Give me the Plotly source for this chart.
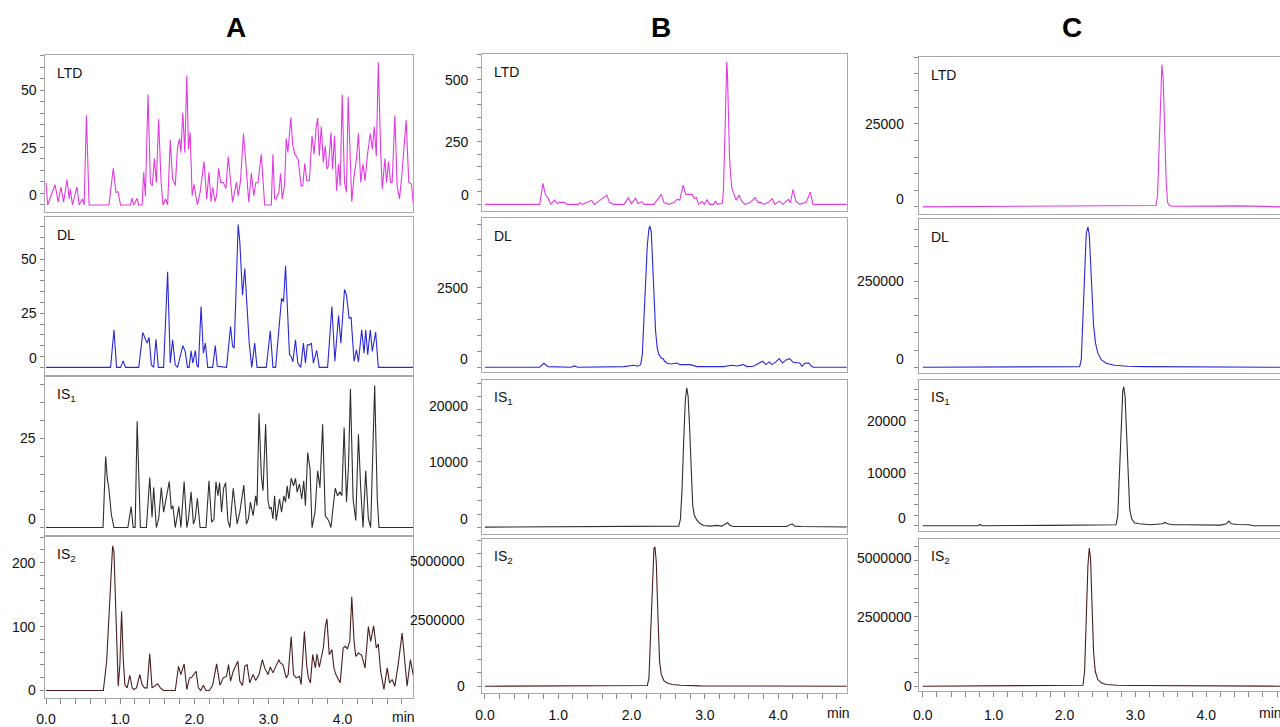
import plotly.graph_objects as go

W, H = 1280, 727

COLUMN_TITLES = ["A", "B", "C"]
COMPOUNDS = ["LTD", "DL", "IS<sub>1</sub>", "IS<sub>2</sub>"]
COLORS = ["#e23ae2", "#2828d8", "#2e2e2e", "#4a1e1e"]
X_TICK_LABELS = ["0.0", "1.0", "2.0", "3.0", "4.0"]

# ---- data: (retention time [min], intensity) ----
A_LTD = [(0.000, 9.8), (0.022, 0), (0.121, 8.8), (0.165, 1.2), (0.201, 7.7), (0.237, 1.2), (0.282, 11), (0.313, 2.6),
         (0.326, 6.9), (0.357, 0), (0.416, 7.9), (0.447, 0), (0.492, 2.6), (0.514, 0), (0.545, 39), (0.581, 0),
         (0.849, 0), (0.907, 15.9), (0.943, 5.5), (0.970, 5.8), (1.005, 0), (1.139, 0), (1.157, 2.9), (1.184, 0),
         (1.229, 2.9), (1.251, 0), (1.296, 0), (1.318, 14.2), (1.340, 3.8), (1.376, 48.1), (1.408, 9.8), (1.434, 8.4),
         (1.461, 20.2), (1.488, 9.8), (1.519, 37.3), (1.550, 11.3), (1.577, 0), (1.613, 2.6), (1.640, 0), (1.676, 28.2),
         (1.707, 11.3), (1.743, 8.4), (1.774, 25), (1.801, 28.9), (1.819, 22.8), (1.845, 40.1), (1.872, 22.8),
         (1.899, 56.3), (1.921, 24.3), (1.944, 31.5), (1.971, 4), (1.997, 9), (2.020, 4), (2.042, 0), (2.078, 5.5),
         (2.131, 18.9), (2.167, 2.6), (2.198, 14.2), (2.225, 1.4), (2.248, 7.7), (2.279, 1.4), (2.301, 4), (2.328, 15.9),
         (2.355, 9.8), (2.391, 9.8), (2.426, 7.2), (2.458, 21.1), (2.489, 9.8), (2.516, 1.2), (2.569, 9.8), (2.592, 4),
         (2.623, 10.3), (2.663, 31.1), (2.694, 18.5), (2.735, 1.2), (2.770, 13.9), (2.802, 4), (2.828, 9.5),
         (2.860, 9.8), (2.904, 22.1), (2.949, 0), (3.038, 0), (3.061, 22.1), (3.083, 2.6), (3.105, 2.6), (3.141, 5.5),
         (3.164, 13.7), (3.186, 2.6), (3.217, 8.4), (3.240, 28.9), (3.262, 22.8), (3.302, 38), (3.329, 25.7),
         (3.356, 22.1), (3.400, 19.9), (3.441, 8.4), (3.463, 8.4), (3.490, 18.1), (3.517, 10.5), (3.552, 10.5),
         (3.588, 30), (3.615, 22.1), (3.642, 33.2), (3.664, 37.8), (3.686, 21.4), (3.713, 34.1), (3.740, 18.5),
         (3.767, 25.7), (3.789, 15.6), (3.811, 17), (3.843, 31.5), (3.865, 15.6), (3.892, 30), (3.919, 6.2),
         (3.946, 17.8), (3.968, 8.4), (3.995, 48.1), (4.026, 9.8), (4.053, 5.5), (4.075, 47.1), (4.102, 18.5),
         (4.124, 1.4), (4.155, 12.7), (4.187, 19.9), (4.214, 31.2), (4.245, 9.8), (4.276, 17.9), (4.303, 10.5),
         (4.334, 21.4), (4.374, 31.1), (4.401, 24.3), (4.428, 34.1), (4.455, 21.1), (4.482, 62.1), (4.513, 24.3),
         (4.535, 6.9), (4.571, 20.2), (4.593, 9.8), (4.620, 18.9), (4.647, 9.8), (4.669, 9.8), (4.705, 39),
         (4.736, 8.4), (4.768, 2.6), (4.803, 14.2), (4.857, 37), (4.893, 9.8), (4.929, 9.1), (4.955, 0)]

A_DL = [(0, 0), (0.871, 0), (0.916, 17.3), (0.952, 0), (1.005, 0), (1.041, 3), (1.072, 0), (1.251, 0), (1.305, 16.1),
        (1.332, 13.5), (1.363, 11.2), (1.390, 13.8), (1.421, 1.2), (1.452, 0), (1.483, 13), (1.515, 0), (1.586, 0),
        (1.640, 44.2), (1.676, 2), (1.707, 12.7), (1.743, 1.2), (1.774, 0), (1.845, 10), (1.877, 7.4), (1.908, 0),
        (1.930, 0), (1.957, 7.7), (1.979, 2), (1.997, 5.8), (2.015, 7.7), (2.033, 1.2), (2.055, 0), (2.091, 28.1),
        (2.122, 6.6), (2.149, 11.2), (2.181, 0), (2.248, 0), (2.283, 10.1), (2.310, 0.5), (2.435, 0), (2.489, 18.9),
        (2.516, 9.7), (2.538, 8.9), (2.592, 66), (2.614, 58), (2.650, 33.4), (2.681, 45.7), (2.712, 27.3), (2.739, 12),
        (2.775, 0), (2.815, 11.2), (2.846, 0), (2.971, 0), (3.025, 16.9), (3.061, 0), (3.097, 0), (3.150, 24.2),
        (3.177, 31.9), (3.204, 30.4), (3.231, 46.9), (3.262, 22.7), (3.284, 5.8), (3.307, 5.1), (3.329, 2.5),
        (3.365, 12.7), (3.396, 2), (3.436, 0), (3.472, 11.2), (3.499, 2), (3.525, 10.4), (3.552, 10.4), (3.579, 11.2),
        (3.606, 2), (3.651, 7.8), (3.686, 0), (3.798, 0), (3.856, 28.1), (3.896, 2.8), (3.946, 23.9), (3.977, 11.2),
        (4.026, 36), (4.053, 33.4), (4.088, 22.7), (4.115, 23), (4.155, 2.8), (4.187, 8.1), (4.214, 2.5), (4.258, 17.3),
        (4.290, 6.6), (4.312, 17.3), (4.339, 5.8), (4.374, 17.3), (4.401, 7.4), (4.446, 16.3), (4.482, 0), (4.960, 0)]

A_IS1 = [(0, 0), (0.769, 0), (0.804, 19.9), (0.827, 13.6), (0.849, 10.8), (0.880, 3.8), (0.916, 0), (1.104, 0),
         (1.148, 5.9), (1.175, 0), (1.202, 0), (1.229, 29.8), (1.273, 0), (1.354, 0), (1.399, 14), (1.430, 2.9),
         (1.452, 11.2), (1.488, 0), (1.519, 2.4), (1.555, 11.2), (1.586, 4.3), (1.613, 7.5), (1.662, 12.9),
         (1.689, 5.2), (1.711, 6.1), (1.743, 0), (1.765, 2.4), (1.792, 5.9), (1.819, 0), (1.863, 12.9), (1.899, 0),
         (1.921, 2.4), (1.957, 10), (1.988, 1), (2.011, 2.4), (2.042, 8.2), (2.078, 0), (2.158, 0), (2.198, 13.1),
         (2.234, 1.5), (2.265, 2.4), (2.292, 12.8), (2.319, 8.9), (2.341, 12.6), (2.368, 4.3), (2.395, 11),
         (2.422, 12.6), (2.453, 2), (2.480, 0), (2.525, 11), (2.551, 6.1), (2.578, 1), (2.614, 4.3), (2.668, 11.9),
         (2.703, 1), (2.730, 2.4), (2.757, 7.1), (2.793, 3.3), (2.828, 8.9), (2.846, 6.1), (2.873, 32), (2.904, 14.5),
         (2.927, 10.3), (2.962, 28.9), (2.994, 7.5), (3.016, 5.2), (3.038, 5.7), (3.061, 2.4), (3.083, 8.9),
         (3.105, 2), (3.150, 8), (3.177, 4.3), (3.208, 8.9), (3.231, 7.1), (3.253, 11.7), (3.275, 8), (3.307, 13.8),
         (3.338, 11.7), (3.365, 13.8), (3.387, 9.9), (3.418, 12.2), (3.450, 8), (3.476, 13.1), (3.499, 6.1),
         (3.530, 21), (3.561, 16.4), (3.588, 0), (3.628, 4.3), (3.664, 15.9), (3.695, 11.2), (3.731, 28.9),
         (3.767, 3.3), (3.811, 2), (3.843, 0), (3.865, 4.3), (3.901, 11), (3.932, 8.9), (3.963, 10), (3.990, 8.9),
         (4.021, 28), (4.053, 7.2), (4.080, 17.3), (4.106, 38.8), (4.142, 8), (4.178, 2), (4.214, 26.1),
         (4.245, 10.8), (4.276, 0), (4.312, 15.9), (4.348, 2.4), (4.379, 0), (4.433, 39.8), (4.468, 8), (4.491, 0),
         (4.960, 0)]

A_IS2 = [(0, 0), (0.773, 0), (0.818, 45.6), (0.849, 118), (0.880, 201), (0.898, 226), (0.916, 217), (0.938, 144),
         (0.974, 6.7), (0.996, 40.4), (1.019, 124), (1.041, 50.8), (1.063, 9.3), (1.095, 4.1), (1.130, 23.8),
         (1.162, 4.1), (1.184, 1.6), (1.220, 4.1), (1.265, 24.9), (1.296, 9.3), (1.327, 4.1), (1.363, 4.1),
         (1.399, 57.5), (1.430, 4.1), (1.466, 6.7), (1.506, 10.4), (1.542, 4.1), (1.586, 0), (1.743, 0), (1.787, 37.8),
         (1.819, 24.9), (1.863, 41.5), (1.899, 1.6), (1.935, 19.7), (1.966, 20.7), (2.024, 30.1), (2.055, 4.1),
         (2.087, 0), (2.122, 8.3), (2.158, 0), (2.203, 0), (2.248, 8.3), (2.301, 41.5), (2.346, 8.3), (2.391, 19.7),
         (2.435, 22.3), (2.462, 40.4), (2.489, 14.5), (2.525, 30.1), (2.560, 40.4), (2.587, 45.6), (2.614, 14.5),
         (2.650, 7.8), (2.681, 37.8), (2.712, 40.4), (2.748, 11.9), (2.793, 24.9), (2.828, 15.6), (2.873, 24.9),
         (2.918, 48.2), (2.949, 35.3), (2.994, 24.9), (3.025, 36.8), (3.061, 27.5), (3.097, 37.8), (3.141, 48.2),
         (3.159, 43), (3.195, 40.4), (3.240, 19.7), (3.266, 24.9), (3.307, 84.5), (3.338, 24.9), (3.374, 19.7),
         (3.418, 22.3), (3.441, 9.3), (3.485, 92.3), (3.517, 37.8), (3.539, 19.7), (3.566, 11.9), (3.597, 56),
         (3.633, 35.3), (3.655, 57), (3.686, 36.3), (3.709, 50.8), (3.740, 66.4), (3.767, 100), (3.789, 112),
         (3.820, 56), (3.856, 63.8), (3.883, 35.3), (3.910, 24.9), (3.968, 11.9), (4.008, 66.4), (4.035, 69),
         (4.066, 65.3), (4.097, 76.7), (4.124, 146.7), (4.155, 76.7), (4.178, 53.4), (4.214, 58.6), (4.258, 55),
         (4.303, 35.3), (4.348, 100), (4.379, 76.7), (4.419, 101), (4.455, 66.4), (4.482, 72.6), (4.513, 30.1),
         (4.558, 1.6), (4.602, 35.3), (4.634, 11.9), (4.669, 17.1), (4.705, 6.7), (4.750, 40.4), (4.803, 89.7),
         (4.835, 50.8), (4.870, 6.7), (4.915, 48.2), (4.960, 19.7)]

B_LTD = [(0, 0), (0.746, 0), (0.768, 40), (0.791, 84), (0.823, 40), (0.859, 27), (0.895, 0), (0.949, 17), (0.985, 3),
         (1.017, 9), (1.049, 7), (1.076, 9), (1.121, 0), (1.275, 0), (1.297, 7), (1.333, 0), (1.455, 16), (1.492, 0),
         (1.663, 37), (1.699, 7), (1.754, 0), (1.898, 0), (1.957, 27), (1.998, 3), (2.056, 25), (2.088, 3),
         (2.133, 11), (2.169, 0), (2.305, 0), (2.405, 40), (2.441, 7), (2.508, 0), (2.576, 7), (2.621, 20),
         (2.658, 17), (2.703, 77), (2.739, 40), (2.780, 40), (2.825, 40), (2.857, 23), (2.884, 27), (2.915, 0),
         (2.960, 12), (2.992, 0), (3.028, 19), (3.064, 0), (3.119, 0), (3.146, 12), (3.173, 0), (3.232, 4),
         (3.241, 7), (3.254, 60), (3.268, 206), (3.281, 392), (3.290, 512), (3.299, 572), (3.308, 525), (3.322, 339),
         (3.336, 193), (3.349, 126), (3.367, 66), (3.390, 47), (3.426, 17), (3.467, 37), (3.503, 13), (3.548, 0),
         (3.616, 7), (3.684, 27), (3.729, 7), (3.760, 9), (3.797, 0), (3.864, 7), (3.919, 23), (3.955, 0),
         (4.014, 13), (4.068, 0), (4.136, 20), (4.167, 7), (4.203, 60), (4.240, 13), (4.294, 0), (4.384, 9),
         (4.438, 49), (4.475, 0), (4.936, 0)]

B_DL = [(0, 0), (0.746, 0), (0.805, 125), (0.859, 21), (1.175, 0), (1.220, 42), (1.266, 0), (1.898, 21), (2.034, 63),
        (2.079, 31), (2.124, 83), (2.147, 396), (2.169, 1542), (2.192, 2896), (2.215, 3833), (2.237, 4354),
        (2.251, 4438), (2.269, 4250), (2.287, 3417), (2.305, 2167), (2.328, 1125), (2.350, 604), (2.373, 396),
        (2.405, 292), (2.432, 271), (2.450, 188), (2.486, 125), (2.531, 104), (2.621, 135), (2.658, 83), (2.712, 83),
        (2.757, 63), (2.802, 83), (2.893, 21), (3.028, 21), (3.164, 31), (3.254, 21), (3.367, 63), (3.435, 42),
        (3.525, 83), (3.571, 21), (3.661, 31), (3.729, 104), (3.788, 188), (3.833, 83), (3.878, 167), (3.914, 83),
        (3.968, 167), (4.014, 271), (4.059, 135), (4.113, 240), (4.158, 271), (4.203, 156), (4.249, 135),
        (4.294, 135), (4.325, 31), (4.362, 125), (4.420, 135), (4.452, 31), (4.484, 0), (4.949, 0)]

B_IS1 = [(0, 0), (0.85, 30), (1.6, 40), (2.3, 80), (2.644, 152), (2.667, 1268), (2.689, 5834), (2.712, 13445),
         (2.734, 19533), (2.753, 21309), (2.771, 20041), (2.789, 15982), (2.811, 8371), (2.834, 3298), (2.857, 1776),
         (2.893, 1015), (2.938, 507), (2.983, 254), (3.073, 152), (3.164, 254), (3.232, 152), (3.277, 406),
         (3.308, 660), (3.345, 254), (3.390, 101), (4.113, 101), (4.158, 355), (4.190, 507), (4.226, 152),
         (4.316, 101), (4.972, 0)]

B_IS2 = [(0, 0), (2.215, 25000), (2.237, 312000), (2.260, 2060000), (2.282, 4190000), (2.305, 5180000),
         (2.319, 5250000), (2.337, 4690000), (2.359, 2690000), (2.382, 937000), (2.405, 437000), (2.441, 212000),
         (2.486, 125000), (2.554, 62000), (2.667, 37000), (2.938, 12000), (4.95, 0)]

C_LTD = [(0, 0), (0.8, 100), (1.4, 150), (2.0, 150), (2.6, 250), (3.0, 300), (3.289, 400), (3.312, 3390),
         (3.336, 20360), (3.354, 35330), (3.373, 42810), (3.392, 38320), (3.411, 24350), (3.434, 7390), (3.453, 1400),
         (3.481, 400), (3.523, 200), (4.2, 250), (4.5, 300), (5.05, 0)]

C_DL = [(0, 0), (2.213, 1900), (2.236, 22100), (2.260, 142000), (2.283, 306000), (2.306, 387000), (2.330, 407000),
        (2.349, 383000), (2.367, 306000), (2.386, 200000), (2.409, 123000), (2.437, 70000), (2.470, 41000),
        (2.517, 22000), (2.587, 11500), (2.704, 5800), (2.891, 2900), (3.125, 1900), (4.0, 1000), (5.05, 0)]

C_IS1 = [(0, 0), (0.78, 0), (0.809, 240), (0.84, 0), (1.8, 60), (2.6, 60), (2.727, 177), (2.751, 1950),
         (2.774, 10170), (2.798, 20920), (2.821, 25670), (2.835, 26490), (2.854, 24720), (2.873, 18390),
         (2.896, 8910), (2.919, 3210), (2.947, 1320), (2.985, 560), (3.055, 370), (3.125, 300), (3.219, 177),
         (3.382, 367), (3.415, 620), (3.453, 367), (3.523, 177), (3.687, 177), (3.920, 114), (4.201, 114),
         (4.285, 367), (4.318, 873), (4.351, 367), (4.435, 240), (4.599, 177), (4.669, 0), (5.05, 0)]

C_IS2 = [(0, 0), (2.260, 36000), (2.283, 536000), (2.306, 2560000), (2.330, 4345000), (2.349, 4964000),
         (2.367, 4583000), (2.386, 3036000), (2.409, 1250000), (2.433, 536000), (2.470, 238000), (2.517, 119000),
         (2.587, 60000), (2.751, 36000), (2.985, 24000), (5.05, 0)]

DATA = {
    ("A", 0): A_LTD, ("A", 1): A_DL, ("A", 2): A_IS1, ("A", 3): A_IS2,
    ("B", 0): B_LTD, ("B", 1): B_DL, ("B", 2): B_IS1, ("B", 3): B_IS2,
    ("C", 0): C_LTD, ("C", 1): C_DL, ("C", 2): C_IS1, ("C", 3): C_IS2,
}

# y tick labels per panel: (value, text)
Y_LABELS = {
    ("A", 0): [(0, "0"), (25, "25"), (50, "50")],
    ("A", 1): [(0, "0"), (25, "25"), (50, "50")],
    ("A", 2): [(0, "0"), (25, "25")],
    ("A", 3): [(0, "0"), (100, "100"), (200, "200")],
    ("B", 0): [(0, "0"), (250, "250"), (500, "500")],
    ("B", 1): [(0, "0"), (2500, "2500")],
    ("B", 2): [(0, "0"), (10000, "10000"), (20000, "20000")],
    ("B", 3): [(0, "0"), (2500000, "2500000"), (5000000, "5000000")],
    ("C", 0): [(0, "0"), (25000, "25000")],
    ("C", 1): [(0, "0"), (250000, "250000")],
    ("C", 2): [(0, "0"), (10000, "10000"), (20000, "20000")],
    ("C", 3): [(0, "0"), (2500000, "2500000"), (5000000, "5000000")],
}

# ---- layout / style (pixel geometry) ----
COL_PX = {"A": (37, 408), "B": (477, 844), "C": (917, 1280)}
COL_XRANGE = {"A": (-0.017, 4.956), "B": (-0.04, 4.935), "C": (-0.05, 5.04)}
COL_STANDOFF = {"A": 3, "B": 4, "C": 6}
ROW_PX = {
    "A": [(55, 213), (218, 377), (379, 538), (540, 702)],
    "B": [(54, 212), (219, 374), (382, 537), (542, 697)],
    "C": [(57, 215), (220, 375), (382, 534), (542, 695)],
}
Y_RANGE = {
    ("A", 0): (-3.0, 65.4), ("A", 1): (-3.5, 69.6), ("A", 2): (-2.1, 42.2), ("A", 3): (-12, 240),
    ("B", 0): (-26, 604), ("B", 1): (-147, 4697), ("B", 2): (-1065, 22527), ("B", 3): (-262000, 5547000),
    ("C", 0): (-2096, 45210), ("C", 1): (-16440, 430600), ("C", 2): (-1025, 27818), ("C", 3): (-178600, 5286000),
}
Y_MINOR = {
    ("A", 0): 5, ("A", 1): 5, ("A", 2): 5, ("A", 3): 20,
    ("B", 0): 50, ("B", 1): 500, ("B", 2): 2000, ("B", 3): 500000,
    ("C", 0): 5000, ("C", 1): 50000, ("C", 2): 2000, ("C", 3): 500000,
}
# pixel shift of individual tick-label texts (+ = up), as drawn in the original software
LABEL_SHIFT = {
    ("A", 0): {0: 10}, ("A", 1): {0: 9}, ("A", 2): {0: 8.5}, ("A", 3): {},
    ("B", 0): {0: 9}, ("B", 1): {0: 8.5}, ("B", 2): {0: 8.3, 20000: -9.5}, ("B", 3): {5000000: -7.7},
    ("C", 0): {0: 8}, ("C", 1): {0: 8.5}, ("C", 2): {0: 8}, ("C", 3): {5000000: -11.5},
}
LABEL_GAP = {
    ("A", 0): 7, ("A", 1): 7, ("A", 2): 8, ("A", 3): 8,
    ("B", 0): 12, ("B", 1): 13, ("B", 2): 13, ("B", 3): 16,
    ("C", 0): 14, ("C", 1): 14, ("C", 2): 12, ("C", 3): 6,
}
TITLE_X = {"A": 229, "B": 657, "C": 1071}
MIN_LABEL = {"A": (398, 721, "center"), "B": (836, 717, "center"), "C": (1258, 717, "left")}

FONT = "Liberation Sans, Arial, sans-serif"
FRAME = "#a9a9a9"
TICK = "#8a8a8a"

fig = go.Figure()
layout = {}
annotations = []

idx = 0
for col in ["A", "B", "C"]:
    x0, x1 = COL_PX[col]
    for r in range(4):
        idx += 1
        sfx = "" if idx == 1 else str(idx)
        xa, ya = "x" + sfx, "y" + sfx
        key = (col, r)
        pts = DATA[key]
        fig.add_trace(go.Scatter(
            x=[p[0] for p in pts], y=[p[1] for p in pts], mode="lines",
            line=dict(color=COLORS[r], width=1.1), xaxis=xa, yaxis=ya,
            showlegend=False, hoverinfo="skip"))
        top, bot = ROW_PX[col][r]
        bottom_row = (r == 3)
        xaxis = dict(
            domain=[x0 / W, x1 / W], range=list(COL_XRANGE[col]), anchor=ya,
            showgrid=False, zeroline=False, showline=True, linecolor=FRAME, linewidth=1,
            mirror=True, fixedrange=True,
        )
        if bottom_row:
            xaxis.update(
                tickmode="array", tickvals=[0, 1, 2, 3, 4], ticktext=X_TICK_LABELS,
                ticks="outside", ticklen=5, tickcolor=TICK, tickwidth=1,
                showticklabels=True,
                ticklabelstandoff=COL_STANDOFF[col],
                tickfont=dict(family=FONT, size=14, color="#111111"),
                minor=dict(dtick=0.2, tick0=0, ticks="outside", ticklen=5, tickcolor=TICK, tickwidth=1),
            )
        else:
            xaxis.update(ticks="", showticklabels=False)
        yaxis = dict(
            domain=[1 - bot / H, 1 - top / H], range=list(Y_RANGE[key]), anchor=xa,
            showgrid=False, zeroline=False, showline=True, linecolor=FRAME, linewidth=1,
            mirror=(col != "C"), fixedrange=True,
            tickmode="linear", tick0=0, dtick=Y_MINOR[key], ticks="outside", ticklen=4,
            tickcolor=TICK, tickwidth=1, showticklabels=False,
        )
        layout["xaxis" + sfx] = xaxis
        layout["yaxis" + sfx] = yaxis

        # y tick label texts
        for val, txt in Y_LABELS[key]:
            annotations.append(dict(
                x=(x0 - LABEL_GAP[key]) / W, xref="paper", xanchor="right",
                y=val, yref=ya, yanchor="middle", yshift=LABEL_SHIFT[key].get(val, 0),
                text=txt, showarrow=False, borderpad=0,
                font=dict(family=FONT, size=14, color="#111111")))
        # compound name
        annotations.append(dict(
            x=(x0 + 11) / W, xref="paper", xanchor="left",
            y=1 - (top + 18) / H, yref="paper", yanchor="middle",
            text=COMPOUNDS[r], showarrow=False, borderpad=0,
            font=dict(family=FONT, size=14, color="#111111")))

    # column title
    annotations.append(dict(
        x=TITLE_X[col] / W, xref="paper", xanchor="center",
        y=1 - 28 / H, yref="paper", yanchor="middle",
        text="<b>%s</b>" % COLUMN_TITLES["ABC".index(col)], showarrow=False,
        font=dict(family=FONT, size=28, color="#000000")))
    mx, my, manchor = MIN_LABEL[col]
    annotations.append(dict(
        x=mx / W, xref="paper", xanchor=manchor,
        y=1 - my / H, yref="paper", yanchor="middle",
        text="min", showarrow=False, borderpad=0,
        font=dict(family=FONT, size=14, color="#111111")))

fig.update_layout(
    width=W, height=H, margin=dict(l=0, r=0, t=0, b=0),
    paper_bgcolor="white", plot_bgcolor="white",
    annotations=annotations, showlegend=False,
    **layout,
)

fig.write_html(
    "out.html",
    config={"displayModeBar": False},
    post_script=(
        "document.documentElement.style.margin='0';"
        "document.documentElement.style.padding='0';"
        "document.documentElement.style.overflow='hidden';"
        "document.body.style.margin='0';document.body.style.padding='0';"
        "document.body.style.overflow='hidden';"
        "var gd=document.getElementById('{plot_id}');"
        "gd.style.position='fixed';gd.style.left='0px';gd.style.top='0px';"
    ),
)
